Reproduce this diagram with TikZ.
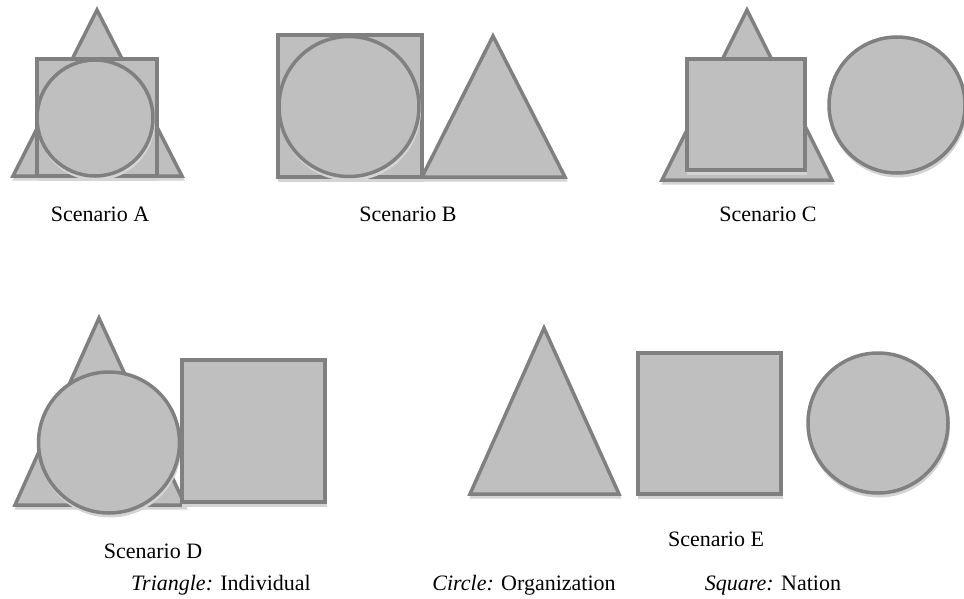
\documentclass[tikz,border=0pt]{standalone}
\usepackage{fontspec}
\setmainfont{Liberation Serif}
\definecolor{shapefill}{HTML}{BFBFBF}
\definecolor{shapeline}{HTML}{808080}
\definecolor{shadowc}{HTML}{D4D4D4}
\tikzset{
  shp/.style={fill=shapefill, draw=shapeline, line width=3.5pt, line join=miter},
  shd/.style={fill=shadowc, draw=shadowc, line width=2pt, shift={(1,3.5)}},
  lbl/.style={font=\fontsize{22}{26}\selectfont, inner sep=0pt, anchor=base},
}
\begin{document}
\begin{tikzpicture}[x=1pt,y=-1pt]
\useasboundingbox (0,0) rectangle (964,598);
% ---------- Scenario A ----------
\path[shd] (97,10) -- (13,176) -- (182,176) -- cycle;
\draw[shp] (97,10) -- (13,176) -- (182,176) -- cycle;
\path[shd] (37,59) rectangle (157,176);
\draw[shp] (37,59) rectangle (157,176);
\path[shd] (95,118) circle (58);
\draw[shp] (95,118) circle (58);
% ---------- Scenario B ----------
\path[shd] (278,35) rectangle (422,177);
\draw[shp] (278,35) rectangle (422,177);
\path[shd] (349,106.5) circle (70);
\draw[shp] (349,106.5) circle (70);
\path[shd] (493,36) -- (422,177) -- (565,177) -- cycle;
\draw[shp] (493,36) -- (422,177) -- (565,177) -- cycle;
% ---------- Scenario C ----------
\path[shd] (747,10) -- (662,180) -- (832,180) -- cycle;
\draw[shp] (747,10) -- (662,180) -- (832,180) -- cycle;
\path[shd] (687,59) rectangle (805,170);
\draw[shp] (687,59) rectangle (805,170);
\path[shd] (897,105) circle (68);
\draw[shp] (897,105) circle (68);
% ---------- Scenario D ----------
\path[shd] (99,318) -- (15,505) -- (185,505) -- cycle;
\draw[shp] (99,318) -- (15,505) -- (185,505) -- cycle;
\path[shd] (109,442.5) circle (70.5);
\draw[shp] (109,442.5) circle (70.5);
\path[shd] (182,360) rectangle (325,502);
\draw[shp] (182,360) rectangle (325,502);
% ---------- Scenario E ----------
\path[shd] (544,328) -- (470,494) -- (619,494) -- cycle;
\draw[shp] (544,328) -- (470,494) -- (619,494) -- cycle;
\path[shd] (638,353) rectangle (781,494);
\draw[shp] (638,353) rectangle (781,494);
\path[shd] (878,423) circle (70);
\draw[shp] (878,423) circle (70);
% ---------- Labels ----------
\node[lbl] (la) at (100,221) {Scenario A};
\node[lbl] (lb) at (408,221) {Scenario B};
\node[lbl] (lc) at (768,221) {Scenario C};
\node[lbl] (ld) at (153,558) {Scenario D};
\node[lbl] (le) at (716,546) {Scenario E};
\node[lbl] (lt) at (221,590) {\textit{Triangle:} Individual};
\node[lbl] (lci) at (524,590) {\textit{Circle:} Organization};
\node[lbl] (lsq) at (773,590) {\textit{Square:} Nation};
\end{tikzpicture}
\end{document}
